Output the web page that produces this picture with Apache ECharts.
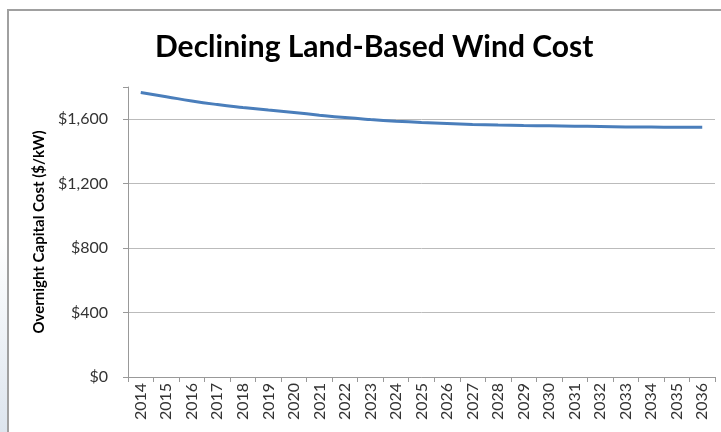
<!DOCTYPE html>
<html>
<head>
<meta charset="utf-8">
<script src="https://cdn.jsdelivr.net/npm/echarts@6/dist/echarts.min.js"></script>
<style>
  html, body { margin: 0; padding: 0; background: #fff; }
  #wrap { position: relative; width: 721px; height: 432px; overflow: hidden;
    background: linear-gradient(#fff 55%, #dde5ee 100%); }
  #chart { position: absolute; left: 7px; top: 9px; width: 714px; height: 423px;
    background: #fff; border-top: 2px solid #a0a0a0; border-left: 2px solid #a0a0a0;
    box-sizing: border-box; }
</style>
</head>
<body>
<div id="wrap"><div id="chart"></div></div>
<script>
// 年份和造价
const years = ['2014', '2015', '2016', '2017', '2018', '2019', '2020', '2021', '2022', '2023', '2024', '2025',
  '2026', '2027', '2028', '2029', '2030', '2031', '2032', '2033', '2034', '2035', '2036']
const costValues = [1766, 1740, 1713, 1691, 1673, 1657, 1642, 1625, 1610, 1598, 1588, 1580,
  1574, 1568, 1564, 1561, 1559, 1557, 1555, 1552, 1551, 1550, 1550]
const yTicks = [0, 400, 800, 1200, 1600]

const chartInstance = echarts.init(document.getElementById('chart'))
const font = 'Lato, "Open Sans", sans-serif'

const option = {
  animation: false,
  title: {
    text: 'Declining Land-Based Wind Cost',
    left: 141,
    top: 16,
    textStyle: { fontFamily: font, fontWeight: 'bold', fontSize: 30, color: '#000' }
  },
  grid: { left: 119, right: 6, top: 76, bottom: 55 },
  xAxis: {
    type: 'category',
    data: years,
    boundaryGap: true,
    axisLine: { lineStyle: { color: '#999', width: 1 } },
    axisTick: { show: true, length: 5, lineStyle: { color: '#999' } },
    axisLabel: { rotate: 90, fontFamily: font, fontSize: 16, color: '#333', margin: 6 }
  },
  yAxis: {
    type: 'value',
    min: 0,
    max: 1800,
    interval: 400,
    name: 'Overnight Capital Cost ($/kW)',
    nameLocation: 'middle',
    nameGap: 80,
    nameTextStyle: { fontFamily: font, fontWeight: 'bold', fontSize: 15, color: '#000' },
    axisLine: { show: true, lineStyle: { color: '#999' } },
    axisTick: { show: true, length: 5, lineStyle: { color: '#999' } },
    splitLine: { lineStyle: { color: ['#bbb', '#bbb', '#bbb', '#bbb', '#bbb', 'rgba(0,0,0,0)'] } },
    axisLabel: {
      fontFamily: font,
      fontSize: 16,
      color: '#333',
      margin: 20,
      formatter: v => yTicks.includes(v) ? '$' + v.toLocaleString('en-US') : ''
    }
  },
  series: [
    {
      type: 'line',
      data: costValues,
      smooth: true,
      symbol: 'none',
      lineStyle: { color: '#4a7ebb', width: 3 }
    }
  ]
}
chartInstance.setOption(option)
</script>
</body>
</html>
